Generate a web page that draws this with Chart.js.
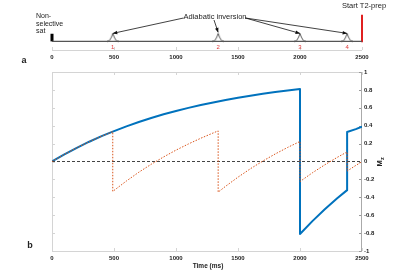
<!DOCTYPE html>
<html><head><meta charset="utf-8">
<script src="https://cdn.jsdelivr.net/npm/chart.js@4"></script>
<style>
html,body{margin:0;padding:0;background:#fff;}
#wrap{position:relative;width:400px;height:276px;}
canvas{position:absolute;left:0;top:0;}
</style></head><body>
<div id="wrap">
  <canvas id="seq" width="400" height="276"></canvas>
  <canvas id="mz" width="400" height="276"></canvas>
</div>
<script>
// ---- data ----
const timeTicks = [0, 500, 1000, 1500, 2000, 2500];
const pulseTimes = [490, 1340, 2000, 2380];
const pulseNames = ["1", "2", "3", "4"];
const satTime = 0, t2prepTime = 2500;

// Mz with a single inversion in the train (solid blue)
const blueT  = [0, 100, 200, 300, 400, 490, 600, 700, 800, 900, 1000, 1100, 1200, 1300, 1400, 1500, 1600, 1700, 1800, 1900, 2000, 2000, 2100, 2200, 2300, 2380, 2380, 2450, 2500];
const blueMz = [0, 0.080, 0.153, 0.221, 0.283, 0.334, 0.392, 0.441, 0.486, 0.527, 0.564, 0.599, 0.631, 0.660, 0.687, 0.712, 0.735, 0.756, 0.776, 0.794, 0.810, -0.810, -0.666, -0.533, -0.411, -0.320, 0.330, 0.362, 0.390];

// Mz inverted at every pulse (dotted orange)
const orangeT  = [0, 100, 200, 300, 400, 490, 490, 600, 700, 800, 900, 1000, 1100, 1200, 1300, 1340, 1340, 1400, 1500, 1600, 1700, 1800, 1900, 2000, 2000, 2100, 2200, 2300, 2380, 2380, 2450, 2500];
const orangeMz = [0, 0.080, 0.153, 0.221, 0.283, 0.334, -0.334, -0.218, -0.120, -0.031, 0.051, 0.127, 0.196, 0.260, 0.319, 0.342, -0.342, -0.277, -0.175, -0.081, 0.005, 0.084, 0.157, 0.224, -0.224, -0.126, -0.037, 0.046, 0.107, -0.107, -0.044, -0.002];

const zeroT = [0, 2500], zeroMz = [0, 0];

const BLUE = "#0072bd", ORANGE = "#d95319", FRAME = "#d4d4d4", INK = "#222";
Chart.defaults.font.family = "'Liberation Sans', Arial, sans-serif";

const pts = (xs, ys) => xs.map((x, i) => ({ x, y: ys[i] }));
const fmt = v => String(Math.round(v * 10) / 10);
const TICK_FONT = { size: 6, weight: "bold" };

// little sinc-ish pulse glyph; bottom half left empty so its centre sits on the timeline
function pulseGlyph() {
  const c = document.createElement("canvas"); c.width = 12; c.height = 20;
  const g = c.getContext("2d");
  g.strokeStyle = "#333"; g.lineWidth = 0.8;
  g.beginPath();
  g.moveTo(0, 10); g.lineTo(2.5, 9.3); g.lineTo(4.5, 6); g.lineTo(6, 2); g.lineTo(7.5, 6); g.lineTo(9.5, 9.3); g.lineTo(12, 10);
  g.stroke();
  return c;
}

function arrow(ctx, x1, y1, x2, y2) {
  const a = Math.atan2(y2 - y1, x2 - x1);
  ctx.beginPath(); ctx.moveTo(x1, y1); ctx.lineTo(x2, y2); ctx.stroke();
  ctx.beginPath();
  ctx.moveTo(x2, y2);
  ctx.lineTo(x2 - 4.5 * Math.cos(a) + 1.8 * Math.sin(a), y2 - 4.5 * Math.sin(a) - 1.8 * Math.cos(a));
  ctx.lineTo(x2 - 4.5 * Math.cos(a) - 1.8 * Math.sin(a), y2 - 4.5 * Math.sin(a) + 1.8 * Math.cos(a));
  ctx.closePath(); ctx.fill();
}

// inward tick marks along a horizontal frame line
function hTicks(ctx, sx, y, dir, color) {
  ctx.strokeStyle = color; ctx.lineWidth = 1;
  for (const t of sx.ticks) {
    const x = Math.round(sx.getPixelForValue(t.value)) + 0.5;
    ctx.beginPath(); ctx.moveTo(x, y); ctx.lineTo(x, y + dir * 3); ctx.stroke();
  }
}

const timeAxis = height => ({
  type: "linear", min: 0, max: 2500,
  afterBuildTicks: s => { s.ticks = timeTicks.map(v => ({ value: v })); },
  ticks: { color: INK, font: TICK_FONT, padding: 4, maxRotation: 0, callback: v => String(v) },
  grid: { display: false, drawTicks: false }, border: { display: false },
  afterFit: s => { s.height = height; }
});

// ---- panel a: sequence timeline ----
const seqDecor = {
  id: "seqDecor",
  afterDraw(chart) {
    const { ctx, chartArea: ca, scales: { x, y } } = chart;
    const base = y.getPixelForValue(9);
    ctx.save();
    // axis line under the timeline
    ctx.strokeStyle = FRAME; ctx.lineWidth = 1;
    ctx.beginPath(); ctx.moveTo(ca.left, ca.bottom + 0.5); ctx.lineTo(ca.right, ca.bottom + 0.5); ctx.stroke();
    hTicks(ctx, x, ca.bottom, -1, FRAME);

    ctx.fillStyle = INK; ctx.textBaseline = "middle";
    ctx.font = "7px 'Liberation Sans', Arial, sans-serif";
    ctx.textAlign = "left";
    ["Non-", "selective", "sat"].forEach((s, i) => ctx.fillText(s, 36, 16 + i * 7.6));
    ctx.textAlign = "center";
    ctx.font = "7.5px 'Liberation Sans', Arial, sans-serif";
    ctx.fillText("Start T2-prep", x.getPixelForValue(t2prepTime) + 2, 6);
    const label = "Adiabatic inversion", lx = 215, ly = 17;
    ctx.fillText(label, lx, ly);
    const w = ctx.measureText(label).width;

    // arrows to the pulses
    ctx.strokeStyle = "#111"; ctx.fillStyle = "#111"; ctx.lineWidth = 0.8;
    const peak = base - 8;
    arrow(ctx, lx - w / 2, ly + 1, x.getPixelForValue(pulseTimes[0]), peak);
    arrow(ctx, lx - 1, ly + 3, x.getPixelForValue(pulseTimes[1]), peak - 1);
    arrow(ctx, lx + w / 2 - 1, ly + 1, x.getPixelForValue(pulseTimes[2]), peak);
    arrow(ctx, lx + w / 2 - 1, ly + 1, x.getPixelForValue(pulseTimes[3]), peak);

    // pulse numbers
    ctx.fillStyle = "#e03a3a"; ctx.font = "6px 'Liberation Sans', Arial, sans-serif";
    pulseTimes.forEach((t, i) => ctx.fillText(pulseNames[i], x.getPixelForValue(t), base + 5.5));

    ctx.fillStyle = INK; ctx.font = "bold 9px 'Liberation Sans', Arial, sans-serif";
    ctx.fillText("a", 24, 61);
    ctx.restore();
  }
};

new Chart(document.getElementById("seq"), {
  type: "line",
  data: {
    datasets: [
      { data: pts([0, 2500], [9, 9]), borderColor: "#555", borderWidth: 1.2, pointRadius: 0 },
      { data: pts(pulseTimes, pulseTimes.map(() => 9)), showLine: false, pointStyle: pulseGlyph(), pointRadius: 6 },
      { data: pts([satTime, satTime], [9, 17]), borderColor: "#000", borderWidth: 3, pointRadius: 0, clip: false },
      { data: pts([t2prepTime, t2prepTime], [8, 37]), borderColor: "#e02020", borderWidth: 2, pointRadius: 0, clip: false }
    ]
  },
  options: {
    responsive: false, animation: false, events: [],
    layout: { padding: { left: 52, right: 38, top: 5, bottom: 0 } },
    plugins: { legend: { display: false }, tooltip: { enabled: false } },
    scales: {
      x: timeAxis(226),
      y: { display: false, min: 0, max: 45 }
    }
  },
  plugins: [seqDecor]
});

// ---- panel b: longitudinal magnetisation ----
const mzFrame = {
  id: "mzFrame",
  beforeDatasetsDraw(chart) {
    const { ctx, chartArea: ca, scales: { x, y } } = chart;
    ctx.save();
    ctx.strokeStyle = FRAME; ctx.lineWidth = 1;
    ctx.beginPath();
    ctx.moveTo(ca.left + 0.5, ca.bottom); ctx.lineTo(ca.left + 0.5, ca.top + 0.5);
    ctx.lineTo(ca.right, ca.top + 0.5);
    ctx.moveTo(ca.left, ca.bottom + 0.5); ctx.lineTo(ca.right, ca.bottom + 0.5);
    ctx.stroke();
    hTicks(ctx, x, ca.bottom, -1, FRAME);
    hTicks(ctx, x, ca.top, 1, FRAME);
    for (const t of y.ticks) {
      const py = Math.round(y.getPixelForValue(t.value)) + 0.5;
      ctx.strokeStyle = FRAME;
      ctx.beginPath(); ctx.moveTo(ca.left, py); ctx.lineTo(ca.left + 3, py); ctx.stroke();
      ctx.strokeStyle = "#999";
      ctx.beginPath(); ctx.moveTo(ca.right - 3, py); ctx.lineTo(ca.right, py); ctx.stroke();
    }
    ctx.strokeStyle = "#aaa";
    ctx.beginPath(); ctx.moveTo(ca.right - 0.5, ca.top); ctx.lineTo(ca.right - 0.5, ca.bottom + 1); ctx.stroke();
    ctx.restore();
  },
  afterDraw(chart) {
    const { ctx, chartArea: ca } = chart;
    ctx.save();
    ctx.fillStyle = INK; ctx.textBaseline = "middle"; ctx.textAlign = "center";
    ctx.font = "bold 6.5px 'Liberation Sans', Arial, sans-serif";
    ctx.fillText("Time (ms)", (ca.left + ca.right) / 2 + 1, 266);
    ctx.font = "bold 9px 'Liberation Sans', Arial, sans-serif";
    ctx.fillText("b", 30, 246);
    // rotated M_z
    ctx.translate(380, (ca.top + ca.bottom) / 2);
    ctx.rotate(-Math.PI / 2);
    ctx.font = "bold 7.5px 'Liberation Sans', Arial, sans-serif";
    const mw = ctx.measureText("M").width;
    ctx.textAlign = "left";
    ctx.fillText("M", -(mw + 4) / 2, 0);
    ctx.font = "bold 5.5px 'Liberation Sans', Arial, sans-serif";
    ctx.fillText("z", -(mw + 4) / 2 + mw + 0.5, 2.5);
    ctx.restore();
  }
};

new Chart(document.getElementById("mz"), {
  type: "line",
  data: {
    datasets: [
      { label: "Inverted every pulse", data: pts(orangeT, orangeMz), borderColor: ORANGE, borderWidth: 1, borderDash: [1.5, 1.5], pointRadius: 0 },
      { label: "Zero", data: pts(zeroT, zeroMz), borderColor: "#444", borderWidth: 1, borderDash: [3, 2], pointRadius: 0 },
      { label: "Mz", data: pts(blueT, blueMz), borderColor: BLUE, borderWidth: 2, pointRadius: 0, borderJoinStyle: "round" }
    ]
  },
  options: {
    responsive: false, animation: false, events: [],
    layout: { padding: { left: 52, right: 0, top: 72, bottom: 0 } },
    plugins: { legend: { display: false }, tooltip: { enabled: false } },
    scales: {
      x: timeAxis(25),
      y: {
        position: "right", min: -1, max: 1,
        ticks: { stepSize: 0.2, color: INK, font: TICK_FONT, padding: 2, callback: fmt },
        grid: { display: false, drawTicks: false }, border: { display: false },
        afterFit: s => { s.width = 38; }
      }
    }
  },
  plugins: [mzFrame]
});
</script>
</body></html>
